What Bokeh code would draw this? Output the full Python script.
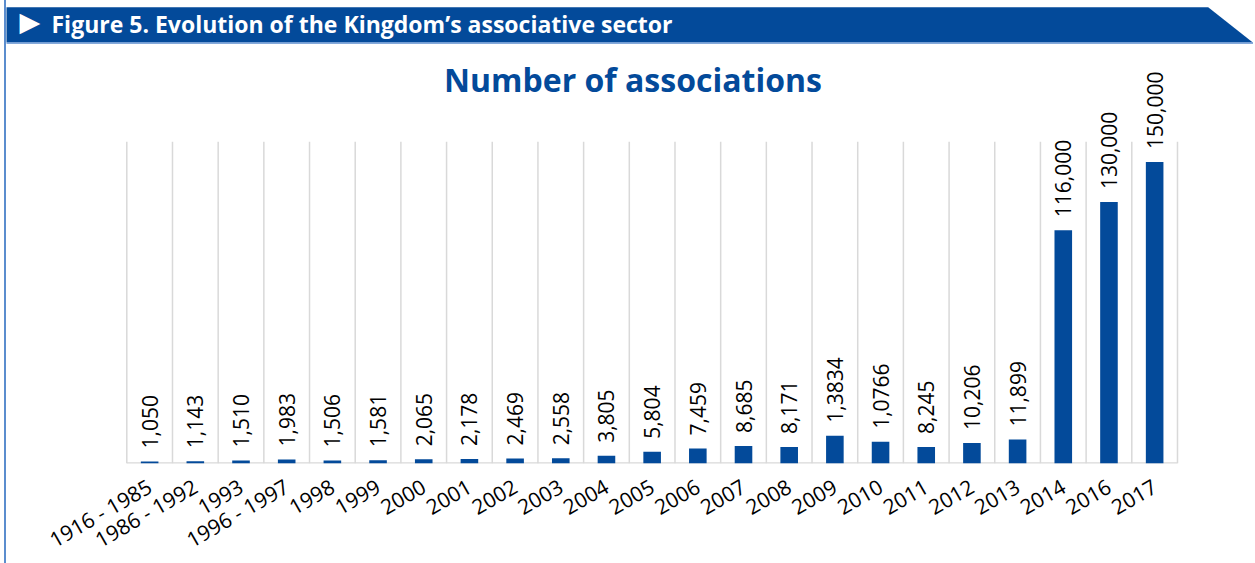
import math
from bokeh.plotting import figure
from bokeh.models import Range1d, FixedTicker, ColumnDataSource
from bokeh.core.properties import value
from bokeh.embed import file_html
from bokeh.resources import INLINE

# ---------------- data ----------------
categories = ["1916 - 1985", "1986 - 1992", "1993", "1996 - 1997", "1998", "1999",
              "2000", "2001", "2002", "2003", "2004", "2005", "2006", "2007", "2008",
              "2009", "2010", "2011", "2012", "2013", "2014", "2016", "2017"]
values = [1050, 1143, 1510, 1983, 1506, 1581, 2065, 2178, 2469, 2558, 3805, 5804,
          7459, 8685, 8171, 13834, 10766, 8245, 10206, 11899, 116000, 130000, 150000]
value_labels = ["1,050", "1,143", "1,510", "1,983", "1,506", "1,581", "2,065", "2,178",
                "2,469", "2,558", "3,805", "5,804", "7,459", "8,685", "8,171", "1,3834",
                "1,0766", "8,245", "10,206", "11,899", "116,000", "130,000", "150,000"]
header_text = "Figure 5.  Evolution of the Kingdom\u2019s associative sector"
chart_title = "Number of associations"

# ---------------- style ----------------
BLUE = "#034a9a"
LIGHT_BLUE = "#5b8dce"
GRID = "#d9d9d9"
FONT = "Open Sans"

X0 = 6              # page x of the canvas' left edge (after CSS margin + border)
FRAME_W = 1247
FRAME_H = 463
Y_TOP = 230270      # value at the top of the frame
GRID_TOP = 160000   # vertical separators end here

n = len(categories)
idx = list(range(n))

p = figure(frame_width=FRAME_W, frame_height=FRAME_H, min_border=0,
           x_range=Range1d(-3.1335, 24.164), y_range=Range1d(0, Y_TOP),
           output_backend="svg", toolbar_location=None, y_axis_location=None,
           styles={"border-left": "2px solid " + LIGHT_BLUE, "margin-left": "4px"})
# pixel-like ranges for the decorative header (page coordinates)
p.extra_x_ranges = {"px": Range1d(X0, X0 + FRAME_W)}
p.extra_y_ranges = {"px": Range1d(FRAME_H, 0)}
p.outline_line_color = None
p.xgrid.visible = False
p.ygrid.visible = False
p.background_fill_color = "white"
p.border_fill_color = "white"

# header band
p.patch(x=[0, 1207.7, 1252, 1252, 0], y=[6.7, 6.7, 41.7, 41.7, 41.7],
        x_range_name="px", y_range_name="px", fill_color=BLUE, line_color=None)
p.quad(left=[0], right=[1260], top=[41.7], bottom=[43.3],
       x_range_name="px", y_range_name="px", fill_color=LIGHT_BLUE, line_color=None)
p.text(x=[19], y=[21], text=["\u25B6"], x_range_name="px", y_range_name="px",
       text_font=value("DejaVu Sans"), text_font_size="27px", text_color="white",
       text_baseline="alphabetic", text_align="left")
p.text(x=[51], y=[23], text=[header_text], x_range_name="px", y_range_name="px",
       text_font=value(FONT), text_font_size="23px", text_font_style="bold",
       text_color="white", text_baseline="alphabetic", text_align="left")
p.text(x=[632.5], y=[79], text=[chart_title], x_range_name="px", y_range_name="px",
       text_font=value(FONT), text_font_size="32px", text_font_style="bold",
       text_color=BLUE, text_baseline="alphabetic", text_align="center")

# category separators and baseline
bounds = [i - 0.5 for i in range(n + 1)]
p.segment(x0=bounds, y0=[0] * len(bounds), x1=bounds, y1=[GRID_TOP] * len(bounds),
          line_color=GRID, line_width=1.5)
p.segment(x0=[-0.5], y0=[0], x1=[n - 0.5], y1=[0], line_color=GRID, line_width=2.5)

# bars
src = ColumnDataSource(dict(x=idx, top=values, label=value_labels))
p.vbar(x="x", top="top", bottom=0, width=0.385, source=src,
       fill_color=BLUE, line_color=None)
p.text(x="x", y="top", text="label", source=src, angle=math.pi / 2,
       text_align="left", text_baseline="middle", y_offset=-13,
       text_font=value(FONT), text_font_size="21px", text_color="#000000")

# x axis
ax = p.xaxis[0]
ax.ticker = FixedTicker(ticks=idx)
ax.major_label_overrides = {i: c for i, c in zip(idx, categories)}
ax.major_label_orientation = math.pi / 6
ax.axis_line_color = None
ax.major_tick_line_color = None
ax.minor_tick_line_color = None
ax.major_tick_out = 0
ax.major_label_standoff = 21
ax.major_label_text_font = FONT
ax.major_label_text_font_size = "21px"
ax.major_label_text_color = "#000000"

open("out.html", "w").write(file_html(p, INLINE))
